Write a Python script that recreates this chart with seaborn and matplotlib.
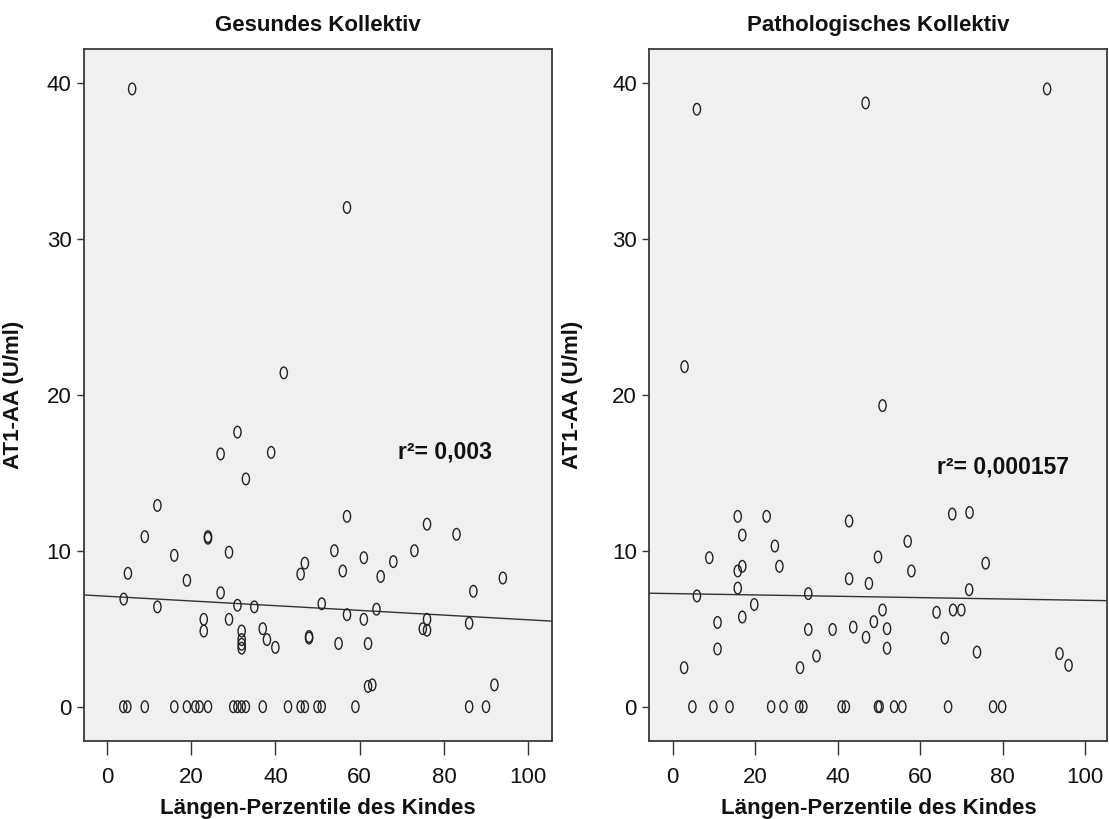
import numpy as np
import pandas as pd
import matplotlib
matplotlib.use("Agg")
import matplotlib.pyplot as plt
import seaborn as sns
from matplotlib.path import Path

# ---------------- data ----------------
panel_titles = ["Gesundes Kollektiv", "Pathologisches Kollektiv"]
x_label = "Längen-Perzentile des Kindes"
y_label = "AT1-AA (U/ml)"
r2_texts = ["r²= 0,003", "r²= 0,000157"]

x_ticks = [0, 20, 40, 60, 80, 100]
y_ticks = [0, 10, 20, 30, 40]

gesund_x = [6, 57, 42,
            31, 27, 39, 33, 12, 9, 24, 24, 16, 29, 5, 19, 4, 12, 27, 31, 35,
            23, 23, 29, 32, 32, 32, 32, 37, 38, 40,
            3.9, 4.85, 9, 16, 19, 21, 22, 24, 30, 31, 32, 33, 37, 43, 46, 47,
            50, 51, 59, 86, 90,
            57, 76, 83, 54, 61, 73, 68, 47, 46, 56, 65, 94, 87, 51, 57, 61, 64,
            76, 75, 76, 86, 48, 48, 55, 62, 62, 63, 92]
gesund_y = [39.6, 32.0, 21.4,
            17.6, 16.2, 16.3, 14.6, 12.9, 10.9, 10.9, 10.8, 9.7, 9.9, 8.55, 8.1,
            6.9, 6.4, 7.3, 6.5, 6.4,
            5.6, 4.85, 5.6, 4.85, 4.3, 4.0, 3.75, 5.0, 4.3, 3.8,
            0, 0, 0, 0, 0, 0, 0, 0, 0, 0, 0, 0, 0, 0, 0, 0,
            0, 0, 0, 0, 0,
            12.2, 11.7, 11.05, 10.0, 9.55, 10.0, 9.3, 9.2, 8.5, 8.7, 8.35, 8.25,
            7.4, 6.6, 5.9, 5.6, 6.25,
            5.6, 5.0, 4.9, 5.35, 4.5, 4.4, 4.05, 4.05, 1.3, 1.4, 1.4]

patho_x = [5.9, 46.8, 90.8, 2.9,
           15.8, 22.8, 42.8, 16.9, 24.8, 8.9, 25.9, 15.8, 16.9, 42.8, 5.9, 15.8,
           32.9, 19.8, 16.9, 10.9, 32.9, 38.8, 43.8, 46.9, 10.9, 34.9, 2.8, 30.9,
           50.9, 67.8, 72.0, 57.0, 49.8, 57.9, 75.9, 47.6, 71.9, 50.9, 64.0,
           68.0, 70.0, 48.8, 52.0, 52.0, 66.0, 73.8, 93.8, 96.0,
           4.8, 9.9, 13.8, 23.9, 26.9, 30.7, 31.7, 41.0, 42.0, 49.8, 50.2,
           53.7, 55.7, 66.8, 77.7, 79.9]
patho_y = [38.3, 38.7, 39.6, 21.8,
           12.2, 12.2, 11.9, 11.0, 10.3, 9.55, 9.0, 8.7, 9.0, 8.2, 7.1, 7.6,
           7.25, 6.55, 5.75, 5.4, 4.95, 4.95, 5.1, 4.45, 3.7, 3.25, 2.5, 2.5,
           19.3, 12.35, 12.45, 10.6, 9.6, 8.7, 9.2, 7.9, 7.5, 6.2, 6.05,
           6.2, 6.2, 5.45, 5.0, 3.75, 4.4, 3.5, 3.4, 2.65,
           0, 0, 0, 0, 0, 0, 0, 0, 0, 0, 0,
           0, 0, 0, 0, 0]

# linear fit lines (intercept, slope)
fit_intercepts = [7.08, 7.25]
fit_slopes = [-0.0151, -0.0043]

# ---------------- style ----------------
sns.set_style("white", {"axes.facecolor": "#f0f0f0",
                        "axes.edgecolor": "#3a3a3a",
                        "xtick.bottom": True, "ytick.left": True})
plt.rcParams["font.family"] = ["Liberation Sans", "DejaVu Sans"]

fig = plt.figure(figsize=(11.09, 8.19), dpi=100)
ax1 = fig.add_axes([0.0757, 0.0956, 0.4218, 0.8442])
ax2 = fig.add_axes([0.5855, 0.0956, 0.4130, 0.8442])

circ = Path.unit_circle()
ellipse = Path(circ.vertices * np.array([0.62, 1.0]), circ.codes)

panels = [
    (ax1, gesund_x, gesund_y, (-5.44, 105.6), (69.0, 16.3), -0.128),
    (ax2, patho_x, patho_y, (-5.64, 105.4), (64.2, 15.35), -0.144),
]

for i, (ax, xs, ys, xlim, txt_pos, ylab_x) in enumerate(panels):
    df = pd.DataFrame({"x": xs, "y": ys})
    sns.scatterplot(data=df, x="x", y="y", ax=ax, marker=ellipse, s=70,
                    color="#222222", facecolor="none", edgecolor="#222222",
                    linewidth=1.0, zorder=3)
    fx = np.array(xlim)
    fy = fit_intercepts[i] + fit_slopes[i] * fx
    sns.lineplot(x=fx, y=fy, ax=ax, color="#333333", linewidth=1.0, zorder=2)

    ax.set_xlim(*xlim)
    ax.set_ylim(-2.18, 42.14)
    ax.set_xticks(x_ticks)
    ax.set_yticks(y_ticks)
    ax.tick_params(axis="x", direction="out", length=10, width=1.0,
                   color="#333333", pad=9, labelsize=16, labelcolor="#111111")
    ax.tick_params(axis="y", direction="out", length=5, width=1.0,
                   color="#333333", pad=4, labelsize=16, labelcolor="#111111")
    for sp in ax.spines.values():
        sp.set_visible(True)
        sp.set_color("#3a3a3a")
        sp.set_linewidth(1.3)

    ax.set_title(panel_titles[i], fontsize=16, fontweight="bold", pad=13,
                 color="#111111")
    ax.set_xlabel(x_label, fontsize=16, fontweight="bold", color="#111111")
    ax.set_ylabel(y_label, fontsize=16, fontweight="bold", color="#111111")
    ax.xaxis.set_label_coords(0.5, -0.083)
    ax.yaxis.set_label_coords(ylab_x, 0.5)
    ax.text(txt_pos[0], txt_pos[1], r2_texts[i], fontsize=16.5,
            fontweight="bold", ha="left", va="center", color="#111111")

fig.savefig("out.png", dpi=100, facecolor="white")
